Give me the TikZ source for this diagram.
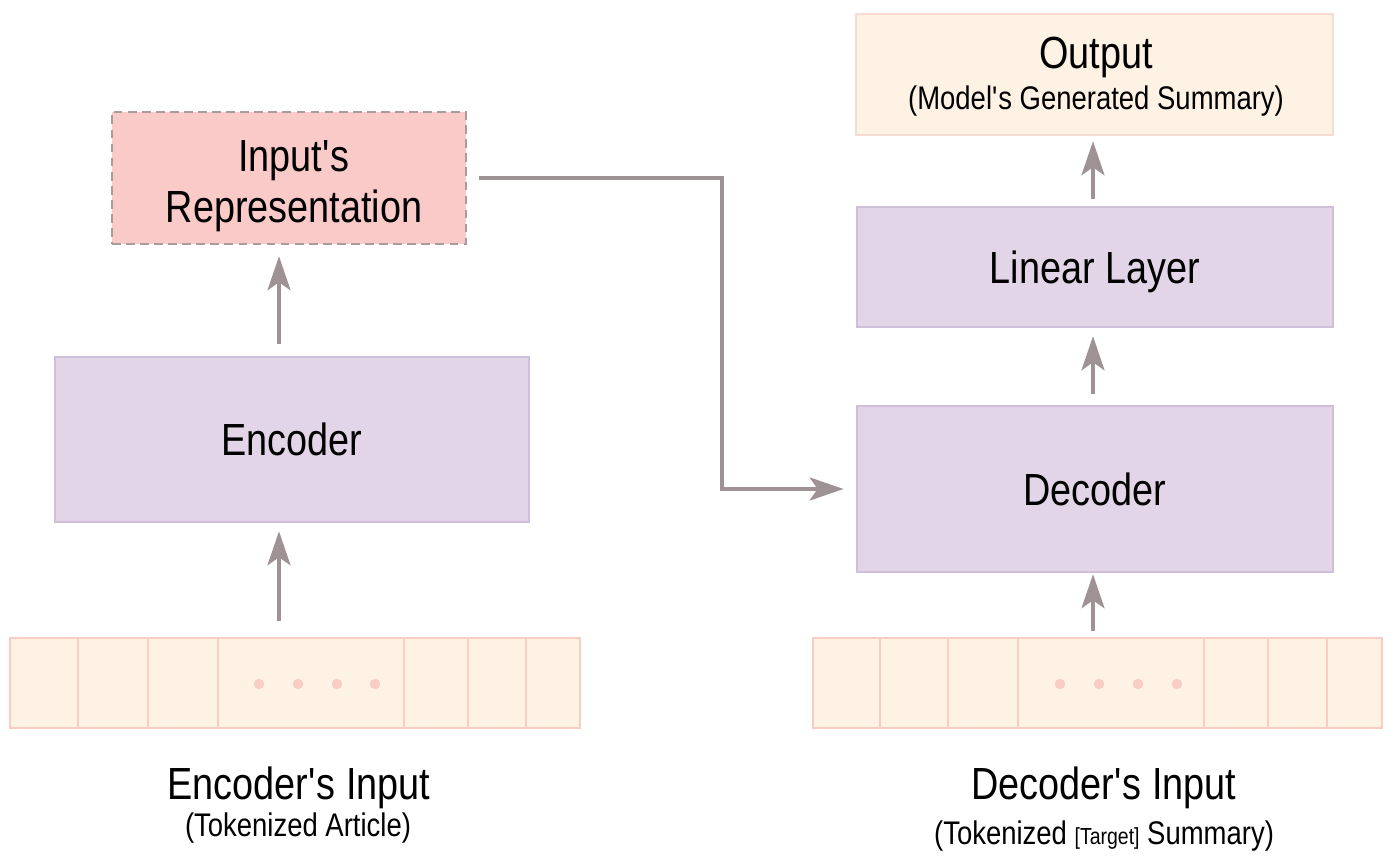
\documentclass[tikz,border=0pt]{standalone}
\usepackage{fontspec}
\setmainfont{Liberation Sans}[FakeStretch=0.84]
\usetikzlibrary{positioning,arrows.meta}

\definecolor{lav}{HTML}{E1D5E7}
\definecolor{lavline}{HTML}{CFC0DA}
\definecolor{repfill}{HTML}{F9CAC7}
\definecolor{repline}{HTML}{A89C9C}
\definecolor{tok}{HTML}{FDF2E3}
\definecolor{tokline}{HTML}{F7CDC4}
\definecolor{outline}{HTML}{F6DCD4}
\definecolor{arrowc}{HTML}{9F9295}

\newcommand{\q}{\textquotesingle}

\begin{document}
\begin{tikzpicture}[x=0.01cm,y=-0.01cm,inner sep=0pt,
		block/.style={draw=lavline,fill=lav,line width=.7pt,minimum width=4.76cm,text depth=0pt},
		tokens/.style={draw=tokline,fill=tok,line width=.7pt,minimum height=.9cm},
		big/.style={font=\fontsize{12.8}{14.5}\selectfont},
		small/.style={font=\fontsize{9.3}{11}\selectfont},
		flow/.style={draw=arrowc,line width=1pt,-{Stealth[length=3.4mm,width=2.3mm,inset=.8mm]}}]
		\useasboundingbox (0,0) rectangle (1400,868);
		
		% left side
		\node[draw=repline,fill=repfill,dashed,dash pattern=on 2.5pt off 1.5pt,line width=.7pt,minimum width=3.54cm,minimum height=1.32cm] (rep) at (289,178) {};
		\node[big,anchor=base] (reptxt1) at (294,172) {Input\q s};
		\node[big,anchor=base] (reptxt2) at (294,223) {Representation};
		\node[block,minimum width=4.74cm,minimum height=1.65cm,big] (enc) at (292,439.5) {Encoder};
		\node[tokens,minimum width=5.7cm] (toke) at (295,683) {};
		\foreach \x in {78,148,218,404,468,526}
			\draw[tokline,line width=.7pt] (\x,638) -- (\x,728);
		\foreach \x in {259,298,337,375}
			\fill[tokline] (\x,684) circle (1.5pt);
		\node[big,anchor=base] (encin) at (299,800) {Encoder\q s Input};
		\node[small,anchor=base] (encsub) at (298,837) {(Tokenized Article)};
		
		% right side
		\node[draw=outline,fill=tok,line width=.7pt,minimum width=4.77cm,minimum height=1.21cm] (out) at (1094.5,74.5) {};
		\node[big,anchor=base] (outtxt) at (1096,69) {Output};
		\node[small,anchor=base] (outsub) at (1096,110) {(Model\q s Generated Summary)};
		\node[block,minimum height=1.2cm,big] (lin) at (1095,267) {Linear Layer};
		\node[block,minimum height=1.66cm,big] (dec) at (1095,489) {Decoder};
		\node[tokens,minimum width=5.69cm] (tokd) at (1097.5,683) {};
		\foreach \x in {880,948,1018,1204,1268,1327}
			\draw[tokline,line width=.7pt] (\x,638) -- (\x,728);
		\foreach \x in {1060,1099,1138,1177}
			\fill[tokline] (\x,684) circle (1.5pt);
		\node[big,anchor=base] (decin) at (1104,800) {Decoder\q s Input};
		\node[small,anchor=base] (decsub) at (1104,845) {(Tokenized {\fontsize{6.6}{8}\selectfont[Target]} Summary)};
		
		\coordinate (encx) at (279,0);
		\coordinate (decx) at (1093,0);
		\coordinate (bend) at (722,0);
		
		\draw[flow,shorten <=.16cm,shorten >=.08cm] (toke.north -| encx) -- (enc.south -| encx);
		\draw[flow,shorten <=.12cm,shorten >=.11cm] (enc.north -| encx) -- (rep.south -| encx);
		\draw[flow,shorten <=.06cm,shorten >=.01cm] (tokd.north -| decx) -- (dec.south -| decx);
		\draw[flow,shorten <=.11cm,shorten >=.08cm] (dec.north -| decx) -- (lin.south -| decx);
		\draw[flow,shorten <=.07cm,shorten >=.05cm] (lin.north -| decx) -- (out.south -| decx);
		\draw[flow,shorten <=.12cm,shorten >=.12cm] (rep.east) -| (bend |- dec.west) -- (dec.west);
	\end{tikzpicture}
\end{document}
